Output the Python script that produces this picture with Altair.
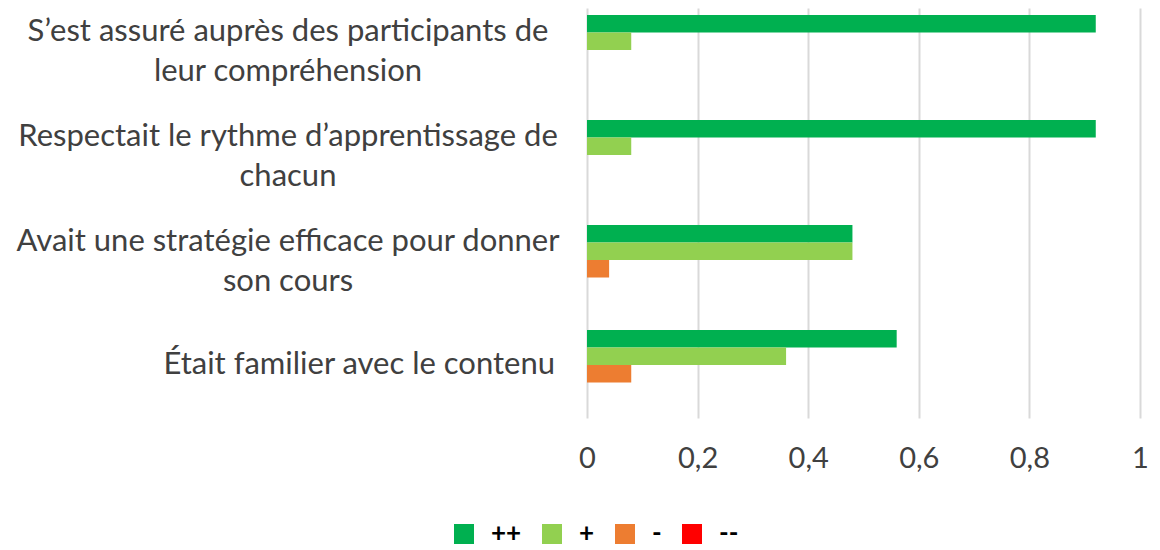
import altair as alt
import pandas as pd

categories = [
    "S’est assuré auprès des participants de leur compréhension",
    "Respectait le rythme d’apprentissage de chacun",
    "Avait une stratégie efficace pour donner son cours",
    "Était familier avec le contenu",
]
labels = [
    "S’est assuré auprès des participants de\nleur compréhension",
    "Respectait le rythme d’apprentissage de\nchacun",
    "Avait une stratégie efficace pour donner\nson cours",
    "Était familier avec le contenu",
]
series = ["++", "+", "-", "--"]
colors = ["#00B050", "#92D050", "#ED7D31", "#FF0000"]
vals_pp = [0.92, 0.92, 0.48, 0.56]
vals_p = [0.08, 0.08, 0.48, 0.36]
vals_m = [0.0, 0.0, 0.04, 0.08]
vals_mm = [0.0, 0.0, 0.0, 0.0]

rows = []
for i, c in enumerate(categories):
    for s, v in zip(series, [vals_pp[i], vals_p[i], vals_m[i], vals_mm[i]]):
        rows.append({"cat": c, "series": s, "value": v})
df = pd.DataFrame(rows)
lab_df = pd.DataFrame({"cat": categories, "label": labels})

FONT = "Lato"
TXT = "#404040"
FS = 29
FS_CAT = 31

yscale = alt.Scale(domain=categories, paddingInner=1 / 3, paddingOuter=0.119, align=0.28)

bars = alt.Chart(df).mark_bar().encode(
    x=alt.X(
        "value:Q",
        scale=alt.Scale(domain=[0, 1], nice=False),
        axis=alt.Axis(
            values=[0, 0.2, 0.4, 0.6, 0.8, 1],
            labelExpr="replace(format(datum.value, '~g'), '.', ',')",
            title=None,
            domain=False,
            ticks=False,
            grid=True,
            gridColor="#d9d9d9",
            gridWidth=2,
            labelFont=FONT,
            labelFontSize=FS,
            labelColor=TXT,
            labelPadding=26,
            labelFlush=False,
        ),
    ),
    y=alt.Y("cat:N", scale=yscale, axis=None, sort=categories),
    yOffset=alt.YOffset("series:N", sort=series, scale=alt.Scale(domain=series, paddingInner=0, paddingOuter=0)),
    color=alt.Color(
        "series:N",
        scale=alt.Scale(domain=series, range=colors),
        legend=alt.Legend(
            title=None,
            orient="none",
            legendX=-136,
            legendY=513,
            direction="horizontal",
            symbolType="square",
            symbolSize=400,
            symbolStrokeWidth=0,
            labelFont=FONT,
            labelFontSize=26,
            labelFontWeight="bold",
            labelColor="#000000",
            labelOffset=14,
            columnPadding=17,
        ),
    ),
)

multi = alt.Chart(lab_df).transform_filter("indexof(datum.label, '\\n') >= 0").mark_text(
    align="center", baseline="middle", lineBreak="\n", lineHeight=40, dy=-18,
    font=FONT, fontSize=FS_CAT, color=TXT
).encode(
    y=alt.Y("cat:N", scale=yscale, axis=None, sort=categories),
    x=alt.value(-299),
    text="label:N",
)

single = alt.Chart(lab_df).transform_filter("indexof(datum.label, '\\n') < 0").mark_text(
    align="right", baseline="middle", font=FONT, fontSize=FS_CAT, color=TXT
).encode(
    y=alt.Y("cat:N", scale=yscale, axis=None, sort=categories),
    x=alt.value(-32),
    text="label:N",
)

chart = alt.layer(bars, multi, single).properties(
    width=553,
    height=410,
    autosize="none",
    padding={"left": 579, "top": 0, "right": 12, "bottom": 132},
).configure_view(stroke=None)

chart.save("out.html", embed_options={"renderer": "svg", "actions": False})
